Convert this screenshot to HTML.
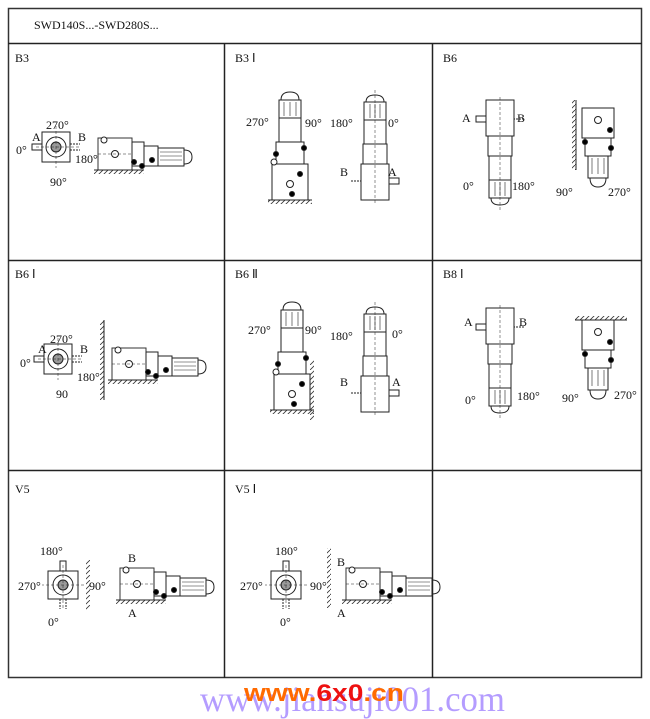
<!DOCTYPE html>
<html><head><meta charset="utf-8"><style>
body{margin:0;background:#fff;width:650px;height:719px;overflow:hidden;font-family:"Liberation Serif",serif}
svg{position:absolute;left:0;top:0}
</style></head><body>
<svg width="650" height="719" viewBox="0 0 650 719" font-family="Liberation Serif, serif" font-size="12" fill="none" stroke="#222">
<defs>
<pattern id="h" width="5" height="5" patternUnits="userSpaceOnUse"><line x1="0" y1="5" x2="5" y2="0" stroke="#333" stroke-width="0.8"/></pattern>
<g id="side">
<rect x="0" y="-32" width="34" height="32" stroke="#333"/>
<circle cx="6" cy="-30" r="3" fill="#fff"/>
<circle cx="17" cy="-16" r="3.5"/>
<line x1="0" y1="-16" x2="34" y2="-16" stroke-dasharray="3 2" stroke-width="0.6"/>
<rect x="34" y="-28" width="12" height="24"/>
<rect x="46" y="-24" width="14" height="20"/>
<rect x="60" y="-22" width="26" height="18"/>
<line x1="62" y1="-18" x2="84" y2="-18" stroke-width="0.6"/><line x1="62" y1="-14" x2="84" y2="-14" stroke-width="0.6"/><line x1="62" y1="-10" x2="84" y2="-10" stroke-width="0.6"/>
<path d="M86 -20 q8 0 8 7 q0 7 -8 7"/>
<circle cx="54" cy="-10" r="2.5" fill="#000"/><circle cx="44" cy="-4" r="2.5" fill="#000"/><circle cx="36" cy="-8" r="2.5" fill="#000"/>
<rect x="-4" y="0" width="50" height="4" fill="url(#h)" stroke="none"/><line x1="-4" y1="0" x2="46" y2="0"/>
</g>
<g id="front">
<rect x="-14" y="-16" width="28" height="30"/>
<circle cx="0" cy="-1" r="10"/><circle cx="0" cy="-1" r="5" fill="#999"/>
<rect x="-24" y="-4" width="10" height="6"/>
<line x1="14" y1="-4" x2="24" y2="-4" stroke-dasharray="2 1"/><line x1="14" y1="2" x2="24" y2="2" stroke-dasharray="2 1"/>
<line x1="-20" y1="-1" x2="24" y2="-1" stroke-width="0.5" stroke-dasharray="3 2"/><line x1="0" y1="-22" x2="0" y2="20" stroke-width="0.5" stroke-dasharray="3 2"/>
</g>
<g id="vert">
<rect x="-18" y="-36" width="36" height="36"/>
<circle cx="0" cy="-16" r="3.5"/>
<rect x="-14" y="-58" width="28" height="22"/>
<rect x="-11" y="-82" width="22" height="24"/>
<rect x="-11" y="-100" width="22" height="18"/>
<path d="M-9 -100 q0 -8 9 -8 q9 0 9 8"/>
<line x1="-6" y1="-98" x2="-6" y2="-84" stroke-width="0.6"/><line x1="0" y1="-98" x2="0" y2="-84" stroke-width="0.6"/><line x1="6" y1="-98" x2="6" y2="-84" stroke-width="0.6"/>
<circle cx="-14" cy="-46" r="2.5" fill="#000"/><circle cx="14" cy="-52" r="2.5" fill="#000"/><circle cx="-16" cy="-38" r="3" fill="#fff"/><circle cx="10" cy="-26" r="2.5" fill="#000"/><circle cx="2" cy="-6" r="2.5" fill="#000"/>
<rect x="-22" y="0" width="44" height="4" fill="url(#h)" stroke="none"/><line x1="-22" y1="0" x2="22" y2="0"/>
</g>
<g id="vert2">
<rect x="-14" y="-36" width="28" height="36"/>
<rect x="-12" y="-56" width="24" height="20"/>
<rect x="-11" y="-80" width="22" height="24"/>
<rect x="-11" y="-98" width="22" height="18"/>
<path d="M-9 -98 q0 -7 9 -7 q9 0 9 7"/>
<line x1="-5" y1="-96" x2="-5" y2="-82" stroke-width="0.6"/><line x1="0" y1="-96" x2="0" y2="-82" stroke-width="0.6"/><line x1="5" y1="-96" x2="5" y2="-82" stroke-width="0.6"/>
<rect x="14" y="-22" width="10" height="6"/>
<line x1="-24" y1="-19" x2="-14" y2="-19" stroke-dasharray="2 1"/>
<line x1="0" y1="-110" x2="0" y2="4" stroke-width="0.5" stroke-dasharray="3 2"/>
</g>
<g id="hang">
<rect x="-16" y="0" width="32" height="30"/>
<circle cx="0" cy="12" r="3.5"/>
<rect x="-13" y="30" width="26" height="18"/>
<rect x="-10" y="48" width="20" height="22"/>
<line x1="-6" y1="50" x2="-6" y2="66" stroke-width="0.6"/><line x1="0" y1="50" x2="0" y2="66" stroke-width="0.6"/><line x1="6" y1="50" x2="6" y2="66" stroke-width="0.6"/>
<path d="M-8 70 q0 9 8 9 q8 0 8 -9"/>
<circle cx="-13" cy="34" r="2.5" fill="#000"/><circle cx="13" cy="40" r="2.5" fill="#000"/><circle cx="12" cy="22" r="2.5" fill="#000"/>
</g>
</defs>
<rect x="8.5" y="8.5" width="633" height="669" stroke="#333" stroke-width="1.5"/>
<line x1="8" y1="43.5" x2="642" y2="43.5" stroke-width="1.5"/>
<line x1="8" y1="260.5" x2="642" y2="260.5" stroke-width="1.5"/>
<line x1="8" y1="470.5" x2="642" y2="470.5" stroke-width="1.5"/>
<line x1="224.5" y1="43" x2="224.5" y2="678" stroke-width="1.5"/>
<line x1="432.5" y1="43" x2="432.5" y2="678" stroke-width="1.5"/>
<g fill="#111" stroke="none">
<text x="34" y="29">SWD140S...-SWD280S...</text>
<text x="15" y="62">B3</text><text x="235" y="62">B3 Ⅰ</text><text x="443" y="62">B6</text>
<text x="15" y="278">B6 Ⅰ</text><text x="235" y="278">B6 Ⅱ</text><text x="443" y="278">B8 Ⅰ</text>
<text x="15" y="493">V5</text><text x="235" y="493">V5 Ⅰ</text>
</g>
<use href="#front" x="56" y="148"/>
<use href="#side" x="98" y="170"/>
<g fill="#111" stroke="none"><text x="46" y="129">270°</text><text x="32" y="141">A</text><text x="78" y="141">B</text><text x="16" y="154">0°</text><text x="75" y="163">180°</text><text x="50" y="186">90°</text></g>
<use href="#vert" x="290" y="200"/><use href="#vert2" x="375" y="200"/>
<g fill="#111" stroke="none"><text x="246" y="126">270°</text><text x="305" y="127">90°</text><text x="330" y="127">180°</text><text x="388" y="127">0°</text><text x="340" y="176">B</text><text x="388" y="176">A</text></g>
<use href="#vert2" x="500" y="200" transform="rotate(180 500 150)"/>
<use href="#hang" x="598" y="108"/>
<rect x="572" y="100" width="4" height="70" fill="url(#h)" stroke="none"/><line x1="576" y1="100" x2="576" y2="170"/>
<g fill="#111" stroke="none"><text x="462" y="122">A</text><text x="517" y="122">B</text><text x="463" y="190">0°</text><text x="512" y="190">180°</text><text x="556" y="196">90°</text><text x="608" y="196">270°</text></g>
<use href="#front" x="58" y="360"/>
<use href="#side" x="112" y="380"/>
<rect x="100" y="320" width="4" height="80" fill="url(#h)" stroke="none"/><line x1="104" y1="320" x2="104" y2="400"/>
<g fill="#111" stroke="none"><text x="50" y="343">270°</text><text x="38" y="353">A</text><text x="80" y="353">B</text><text x="20" y="367">0°</text><text x="77" y="381">180°</text><text x="56" y="398">90</text></g>
<use href="#vert" x="292" y="410"/><use href="#vert2" x="375" y="412"/>
<rect x="310" y="360" width="4" height="60" fill="url(#h)" stroke="none"/>
<g fill="#111" stroke="none"><text x="248" y="334">270°</text><text x="305" y="334">90°</text><text x="330" y="340">180°</text><text x="392" y="338">0°</text><text x="340" y="386">B</text><text x="392" y="386">A</text></g>
<use href="#vert2" x="500" y="420" transform="rotate(180 500 364)"/>
<use href="#hang" x="598" y="320"/>
<rect x="575" y="316" width="52" height="4" fill="url(#h)" stroke="none"/><line x1="575" y1="320" x2="627" y2="320"/>
<g fill="#111" stroke="none"><text x="464" y="326">A</text><text x="519" y="326">B</text><text x="465" y="404">0°</text><text x="517" y="400">180°</text><text x="562" y="402">90°</text><text x="614" y="399">270°</text></g>
<use href="#front" x="62" y="585" transform="rotate(90 62 585)"/>
<use href="#side" x="120" y="600"/>
<rect x="86" y="560" width="4" height="50" fill="url(#h)" stroke="none"/>
<g fill="#111" stroke="none"><text x="40" y="555">180°</text><text x="18" y="590">270°</text><text x="89" y="590">90°</text><text x="48" y="626">0°</text><text x="128" y="562">B</text><text x="128" y="617">A</text></g>
<use href="#front" x="285" y="585" transform="rotate(90 285 585)"/>
<use href="#side" x="346" y="600"/>
<rect x="327" y="548" width="4" height="60" fill="url(#h)" stroke="none"/>
<g fill="#111" stroke="none"><text x="275" y="555">180°</text><text x="240" y="590">270°</text><text x="310" y="590">90°</text><text x="280" y="626">0°</text><text x="337" y="566">B</text><text x="337" y="617">A</text></g>
<text x="200" y="711" font-size="36" textLength="305" lengthAdjust="spacingAndGlyphs" fill="#a78bff" stroke="none" opacity="0.85">www.jiansuji001.com</text>
<text x="244" y="701" font-family="Liberation Sans, sans-serif" font-weight="bold" font-size="24" textLength="160" lengthAdjust="spacingAndGlyphs" fill="#ff6a00" stroke="none">www.<tspan fill="#ee1111">6x0</tspan>.cn</text>
</svg>
</body></html>
